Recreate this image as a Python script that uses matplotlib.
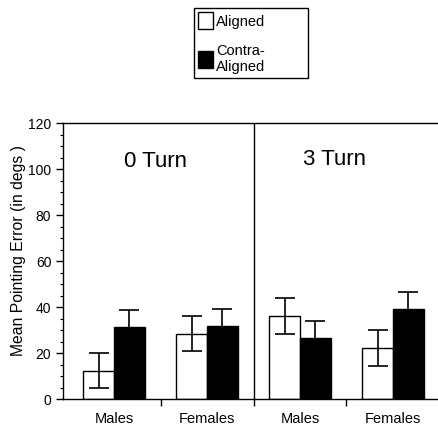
import numpy as np
import matplotlib
matplotlib.use('Agg')
import matplotlib.pyplot as plt
from matplotlib.patches import Patch

plt.rcParams['font.family'] = ['Liberation Sans', 'DejaVu Sans']

# Data
groups = ['Males', 'Females', 'Males', 'Females']
panels = ['0 Turn', '3 Turn']
aligned = [12.5, 28.4, 36.1, 22.2]
aligned_err = [7.7, 7.6, 7.8, 7.8]
contra = [31.4, 31.7, 26.5, 39.3]
contra_err = [7.4, 7.6, 7.6, 7.5]

x = np.arange(len(groups))
w = 0.33

fig = plt.figure(figsize=(4.38, 4.28), dpi=100)
ax = fig.add_axes([0.144, 0.067, 0.853, 0.6455])

ekw = dict(ecolor='black', elinewidth=1.2, capsize=7, capthick=1.2)
ax.bar(x - w/2, aligned, w, color='white', edgecolor='black', lw=1,
       yerr=aligned_err, error_kw=ekw, label='Aligned')
ax.bar(x + w/2, contra, w, color='black', edgecolor='black', lw=1,
       yerr=contra_err, error_kw=ekw, label='Contra-\nAligned')

# Divider between the two panels
ax.axvline(1.5, color='black', lw=1)
ax.text(0.45, 103.5, panels[0], fontsize=16, ha='center', va='center')
ax.text(2.37, 104, panels[1], fontsize=16, ha='center', va='center')

# Y-axis
ax.set_ylim(0, 120)
ax.set_yticks(np.arange(0, 121, 20))
ax.set_yticks(np.arange(0, 121, 5), minor=True)
ax.tick_params(axis='y', which='major', length=5, width=1, labelsize=10)
ax.tick_params(axis='y', which='minor', length=2.5, width=0.8)
ax.set_ylabel('Mean Pointing Error (in degs )', fontsize=11.3)
ax.yaxis.set_label_coords(-0.099, 0.54)

# X-axis: ticks at group boundaries, labels at group centres
ax.set_xlim(-0.548, 3.47)
ax.set_xticks([0.5, 1.5, 2.5])
ax.set_xticklabels([])
ax.set_xticks(x, minor=True)
ax.set_xticklabels(groups, minor=True)
ax.tick_params(axis='x', which='major', length=5, width=1)
ax.tick_params(axis='x', which='minor', length=0, pad=9, labelsize=10.5)

ax.spines['right'].set_visible(False)
for s in ['left', 'bottom', 'top']:
    ax.spines[s].set_linewidth(1)

handles = [Patch(facecolor='white', edgecolor='black', lw=1),
           Patch(facecolor='black', edgecolor='black', lw=1)]
leg = fig.legend(handles, ['Aligned', 'Contra-\nAligned'], loc='upper left',
                 bbox_to_anchor=(194/438, 1 - 8/428, 114/438, 0.0),
                 mode='expand', borderaxespad=0, fontsize=10.5,
                 handlelength=1.0, handleheight=1.4, handletextpad=0.2,
                 labelspacing=1.0, borderpad=0.3, fancybox=False,
                 edgecolor='black', framealpha=1)
leg.get_frame().set_linewidth(1)

fig.savefig('out.png', dpi=100)
